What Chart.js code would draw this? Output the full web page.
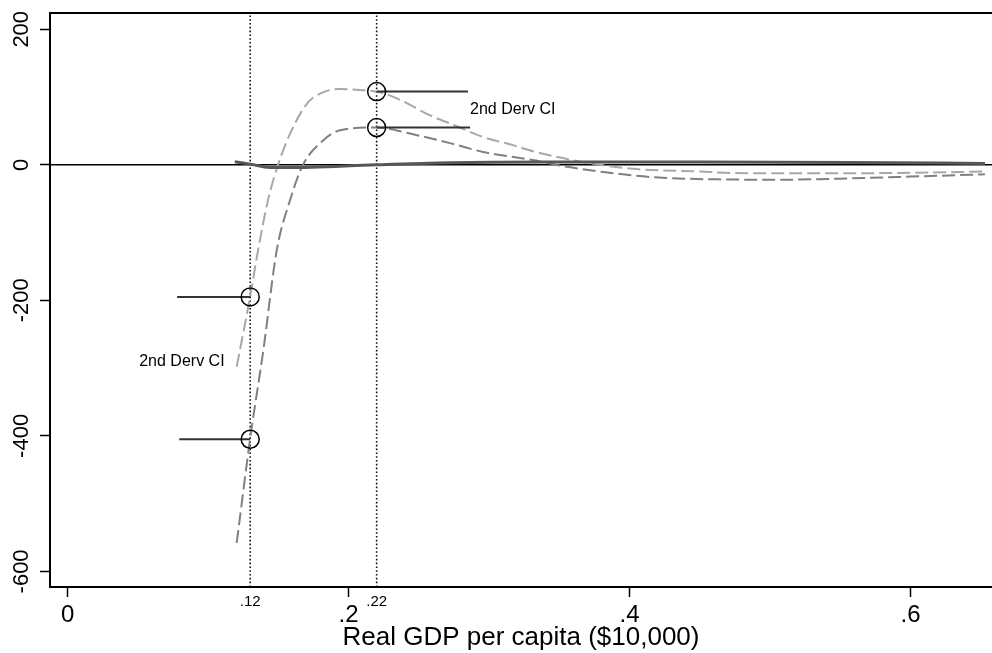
<!DOCTYPE html>
<html>
<head>
<meta charset="utf-8">
<script src="https://cdn.jsdelivr.net/npm/chart.js@4.4.1/dist/chart.umd.min.js"></script>
<style>
  html, body { margin: 0; padding: 0; background: #fff; overflow: hidden; }
  #wrap { width: 992px; height: 653px; }
</style>
</head>
<body>
<div id="wrap"><canvas id="chart" width="992" height="653"></canvas></div>
<script>
const family = "'Liberation Sans', Arial, Helvetica, sans-serif";

// axis ranges
const xMin = -0.0125, xMax = 0.658;
const yMin = -623, yMax = 224;

// tick labels
const xTickVals = [0, 0.2, 0.4, 0.6];
const xTickLabels = ["0", ".2", ".4", ".6"];
const yTickVals = [-600, -400, -200, 0, 200];
const yTickLabels = ["-600", "-400", "-200", "0", "200"];

// turning points (dotted lines) and their axis labels
const turnX = [0.13, 0.22];
const turnLabels = [".12", ".22"];

// 2nd derivative estimate (solid)
const estX = [0.119, 0.13, 0.144, 0.165, 0.194, 0.22, 0.272, 0.343, 0.45, 0.557, 0.653];
const estY = [4.5, 1, -4, -4, -2, 0, 3, 4, 4, 3.5, 2];

// upper CI (light dashed)
const upX = [0.1204, 0.1299, 0.1356, 0.1427, 0.1498, 0.1584, 0.1703, 0.1797, 0.194, 0.2032, 0.22, 0.2343, 0.258, 0.2758, 0.2957, 0.317, 0.3313, 0.367, 0.4025, 0.45, 0.4715, 0.521, 0.5925, 0.653];
const upY = [-298, -195, -126, -52, 0, 46, 90, 105, 112, 111, 108, 98, 73, 58, 41, 29, 20, 4, -6, -10, -12, -12.5, -12, -10];

// lower CI (darker dashed)
const loX = [0.1204, 0.1299, 0.1394, 0.1489, 0.1584, 0.1676, 0.1819, 0.194, 0.22, 0.2459, 0.2722, 0.2957, 0.3313, 0.3555, 0.379, 0.4146, 0.4623, 0.507, 0.557, 0.607, 0.653];
const loY = [-558, -405, -273, -126, -52, 0, 36, 51, 55, 45, 32, 19, 7, -3, -10, -18, -21.5, -22, -20, -17, -14];

// CI values at the turning points (circles)
const markX = [0.13, 0.13, 0.22, 0.22];
const markY = [-195, -405, 108, 55];
// far end of the pointer lines
const leadEndX = [0.078, 0.0795, 0.285, 0.2865];

// text notes
const noteText = ["2nd Derv CI", "2nd Derv CI"];
const noteX = [0.2865, 0.051];
const noteY = [81, -291];

const pts = (xs, ys) => xs.map((x, i) => ({ x: x, y: ys[i] }));
const isTurn = t => !!t && turnX.includes(t.value);

const datasets = [];

// circles
datasets.push({
  data: pts(markX, markY), showLine: false,
  pointRadius: 9, pointHoverRadius: 9, pointBorderWidth: 1.5,
  pointBorderColor: "#000", pointBackgroundColor: "rgba(0,0,0,0)"
});
// pointer lines
markX.forEach((mx, i) => {
  datasets.push({
    data: [{ x: leadEndX[i], y: markY[i] }, { x: mx, y: markY[i] }],
    borderColor: "#333", borderWidth: 2, pointRadius: 0
  });
});
// estimate
datasets.push({
  data: pts(estX, estY), borderColor: "#575757", borderWidth: 3,
  pointRadius: 0, cubicInterpolationMode: "monotone"
});
// CIs
datasets.push({
  data: pts(upX, upY), borderColor: "#a8a8a8", borderWidth: 2, borderDash: [13, 5],
  pointRadius: 0, cubicInterpolationMode: "monotone"
});
datasets.push({
  data: pts(loX, loY), borderColor: "#808080", borderWidth: 2, borderDash: [13, 5],
  pointRadius: 0, cubicInterpolationMode: "monotone"
});
// dotted verticals at the turning points
turnX.forEach(tx => {
  datasets.push({
    data: [{ x: tx, y: yMin }, { x: tx, y: yMax }],
    borderColor: "#111", borderWidth: 1.6, borderDash: [1.6, 2.2], pointRadius: 0
  });
});
// zero line
datasets.push({
  data: [{ x: xMin, y: 0 }, { x: xMax, y: 0 }],
  borderColor: "#000", borderWidth: 1.5, pointRadius: 0
});

// top edge of the plot frame + text notes
const notesPlugin = {
  id: "notes",
  afterDatasetsDraw(chart) {
    const { ctx, chartArea, scales } = chart;
    ctx.save();
    ctx.strokeStyle = "#000";
    ctx.lineWidth = 2;
    ctx.beginPath();
    ctx.moveTo(chartArea.left, chartArea.top);
    ctx.lineTo(chartArea.right, chartArea.top);
    ctx.stroke();
    ctx.fillStyle = "#000";
    ctx.font = "16px " + family;
    ctx.textAlign = "left";
    ctx.textBaseline = "middle";
    noteText.forEach((t, i) => {
      ctx.fillText(t, scales.x.getPixelForValue(noteX[i]), scales.y.getPixelForValue(noteY[i]));
    });
    ctx.restore();
  }
};

new Chart(document.getElementById("chart"), {
  type: "line",
  data: { datasets: datasets },
  plugins: [notesPlugin],
  options: {
    responsive: false,
    animation: false,
    devicePixelRatio: 1,
    layout: { autoPadding: false, padding: { top: 13, right: 0, bottom: 0, left: 0 } },
    plugins: { legend: { display: false }, tooltip: { enabled: false } },
    elements: { line: { tension: 0 } },
    scales: {
      x: {
        type: "linear", min: xMin, max: xMax, bounds: "data",
        afterBuildTicks: s => {
          s.ticks = xTickVals.concat(turnX).sort((a, b) => a - b).map(v => ({ value: v }));
        },
        afterFit: s => { s.height = 66; s.paddingLeft = 0; s.paddingRight = 0; },
        border: { display: true, color: "#000", width: 2 },
        grid: {
          drawOnChartArea: false, drawTicks: true, tickLength: 10, tickWidth: 1.5,
          tickColor: c => isTurn(c.tick) ? "rgba(0,0,0,0)" : "#000"
        },
        ticks: {
          autoSkip: false, minRotation: 0, maxRotation: 0, padding: -4.5, color: "#000",
          font: c => isTurn(c.tick)
            ? { family: family, size: 15, lineHeight: 1.2 }
            : { family: family, size: 24, lineHeight: 1.92 },
          callback: v => {
            const i = turnX.indexOf(v);
            if (i >= 0) return turnLabels[i];
            return xTickLabels[xTickVals.indexOf(v)];
          }
        },
        title: {
          display: true, text: "Real GDP per capita ($10,000)", color: "#000",
          font: { family: family, size: 26 }, padding: { top: 0, bottom: 0 }
        }
      },
      y: {
        type: "linear", min: yMin, max: yMax, bounds: "data",
        afterBuildTicks: s => { s.ticks = yTickVals.map(v => ({ value: v })); },
        afterFit: s => { s.width = 50; s.paddingTop = 0; s.paddingBottom = 0; },
        border: { display: true, color: "#000", width: 2 },
        grid: { drawOnChartArea: false, drawTicks: true, tickLength: 10, tickWidth: 1.5, tickColor: "#000" },
        ticks: {
          minRotation: 90, maxRotation: 90, crossAlign: "center", padding: -3.5, color: "#000",
          font: { family: family, size: 22 },
          callback: v => yTickLabels[yTickVals.indexOf(v)]
        }
      }
    }
  }
});
</script>
</body>
</html>
